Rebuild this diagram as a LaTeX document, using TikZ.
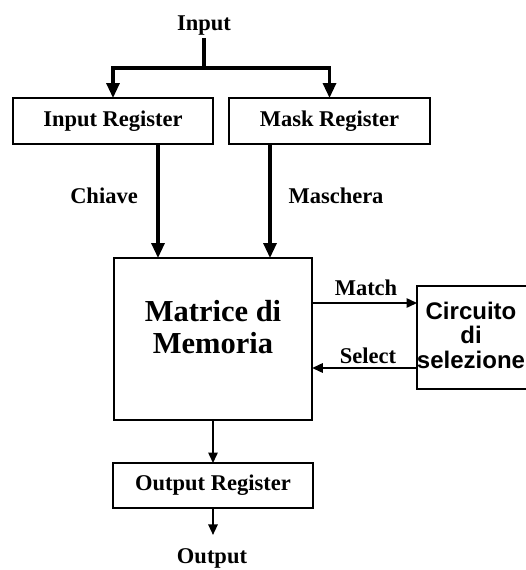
\documentclass[tikz,border=0pt]{standalone}
\usepackage{fontspec}
\setmainfont{Liberation Serif}
\newfontfamily\arialfam{Liberation Sans}
\usetikzlibrary{arrows.meta}
\begin{document}
\begin{tikzpicture}[x=1pt,y=-1pt,
  box/.style={draw,line width=1.8pt,inner sep=0pt,outer sep=0pt,
    font=\fontsize{22.5}{24}\selectfont\bfseries},
  lbl/.style={inner sep=0pt,anchor=base,font=\fontsize{22.5}{24}\selectfont\bfseries},
  bigarrow/.style={line width=3.2pt,-{Triangle[length=15pt,width=13pt]}},
  smallarrow/.style={line width=1.5pt,-{Triangle[length=10.5pt,width=9.5pt]}}]
\useasboundingbox (0,0) rectangle (526,570);

% boxes
\node[box,minimum width=200pt,minimum height=46pt] (ir) at (113,121) {Input Register};
\node[box,minimum width=201pt,minimum height=46pt] (mr) at (329.5,121) {Mask Register};
\node[box,minimum width=198.5pt,minimum height=162pt] (mm) at (213,339) {};
\node[inner sep=0pt,align=center,font=\fontsize{30.5}{32}\selectfont\bfseries] (mmt) at (213,327) {Matrice di\\Memoria};
\node[box,minimum width=118pt,minimum height=103pt] (cs) at (476,337.5) {};
\node[inner sep=0pt,align=center,font=\arialfam\fontsize{24}{24.5}\selectfont\bfseries] (cst) at (471,335) {Circuito\\di\\selezione};
\node[box,minimum width=200pt,minimum height=45pt] (or) at (213,485.5) {Output Register};

% labels
\node[lbl] (inp) at (204,30) {Input};
\node[lbl] (chi) at (104,203) {Chiave};
\node[lbl] (mas) at (336,203) {Maschera};
\node[lbl] (mat) at (366,295) {Match};
\node[lbl] (sel) at (368,363) {Select};
\node[lbl] (outp) at (212,563) {Output};

% connectors
\coordinate (split) at (204,68);
\draw[line width=3.2pt,shorten <=3pt] (inp.south) -- (split);
\draw[bigarrow] (split) -| (ir.north);
\draw[bigarrow] (split) -| (mr.north);
\draw[bigarrow] (ir.south -| 158,0) -- (mm.north -| 158,0);
\draw[bigarrow] (mr.south -| 270,0) -- (mm.north -| 270,0);
\draw[smallarrow] (mm.east |- 0,303) -- (cs.west |- 0,303);
\draw[smallarrow] (cs.west |- 0,368) -- (mm.east |- 0,368);
\draw[smallarrow] (mm.south) -- (or.north);
\draw[smallarrow,shorten >=13pt] (or.south) -- (or.south |- outp.north);
\end{tikzpicture}
\end{document}
